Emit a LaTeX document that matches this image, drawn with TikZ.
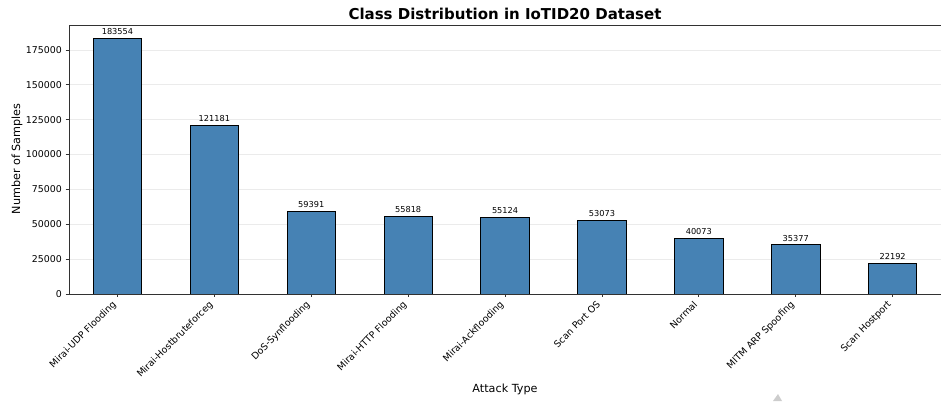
\documentclass[tikz,border=0pt]{standalone}
\usepackage{fontspec}
\setmainfont{DejaVu Sans}
\usepackage{tikz}
\usetikzlibrary{positioning}
\definecolor{barblue}{RGB}{70,130,180}
\definecolor{gridgrey}{RGB}{235,235,235}
\definecolor{spinegrey}{RGB}{50,50,50}
\definecolor{markgrey}{RGB}{205,205,205}
\tikzset{
  base/.style={font=\fontsize{9.4}{11}\selectfont, inner sep=0pt, text=black},
  bar/.style={draw=black, fill=barblue, line width=0.8pt},
  grid/.style={draw=gridgrey, line width=0.8pt},
  spine/.style={draw=spinegrey, line width=0.8pt},
  tick/.style={draw=spinegrey, line width=0.8pt},
  vallbl/.style={font=\fontsize{8.2}{10}\selectfont, inner sep=0pt, anchor=south},
  ylbl/.style={base, anchor=east},
  xlbl/.style={base, anchor=north east, rotate=45},
  axlbl/.style={font=\fontsize{11.2}{13}\selectfont, inner sep=0pt},
  title/.style={font=\fontsize{15}{17}\selectfont\bfseries, inner sep=0pt},
}

\begin{document}
\begin{tikzpicture}[x=96.9pt, y=1.3943pt]
  \useasboundingbox (-69pt,-107pt) rectangle (872pt,294pt);
  % grid and y ticks
  \foreach \v/\t in {0/0,25/25000,50/50000,75/75000,100/100000,125/125000,150/150000,175/175000}{
    \draw[grid] (0,\v) -- (9,\v);
    \draw[tick] (-3.5pt,\v) -- (0,\v);
    \node[ylbl] (y\v) at (-7pt,\v) {\t};
  }
  % bars
  \foreach \i/\n/\v/\l in {0/Mirai-UDP Flooding/183554/183.554,1/Mirai-Hostbruteforceg/121181/121.181,2/DoS-Synflooding/59391/59.391,3/Mirai-HTTP Flooding/55818/55.818,4/Mirai-Ackflooding/55124/55.124,5/Scan Port OS/53073/53.073,6/Normal/40073/40.073,7/MITM ARP Spoofing/35377/35.377,8/Scan Hostport/22192/22.192}{
    \draw[bar] (\i+0.25,0) rectangle (\i+0.75,\l);
    \node[vallbl] (v\i) at ([yshift=3pt]\i+0.5,\l) {\v};
    \draw[tick] (\i+0.5,0) -- (\i+0.5,-3.5pt);
    \node[xlbl] (c\i) at ([xshift=-6pt,yshift=-6pt]\i+0.5,0) {\n};
  }
  % spines
  \draw[spine] (9,0) -- (0,0) -- (0,269pt) -- (9,269pt);
  % labels
  \node[axlbl] (ytitle) at (-52pt,135pt) [rotate=90] {Number of Samples};
  \node[axlbl] (xtitle) at (436pt,-95pt) {Attack Type};
  \node[title] (ttl) at (436pt,280pt) {Class Distribution in IoTID20 Dataset};
  % corner mark
  \fill[markgrey] (704pt,-107pt) -- (713pt,-107pt) -- (709pt,-100pt) -- cycle;
\end{tikzpicture}
\end{document}
